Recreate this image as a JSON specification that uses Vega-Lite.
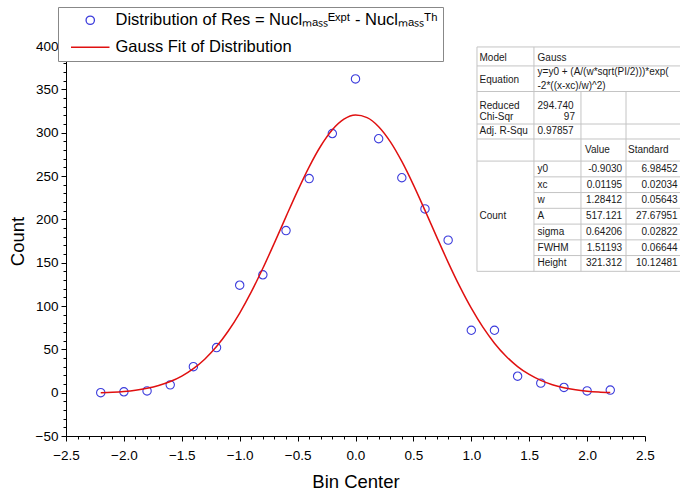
{
  "$schema": "https://vega.github.io/schema/vega-lite/v6.json",
  "width": 579,
  "height": 390,
  "autosize": {"type": "none"},
  "padding": {"left": 66, "top": 46, "right": 35, "bottom": 62},
  "background": "white",
  "config": {"font": "Liberation Sans", "view": {"stroke": null}, "axis": {"labelOverlap": false, "labelFlush": false}},
  "datasets": {
    "obs": [
      {"x": -2.2, "y": 0}, {"x": -2.0, "y": 1}, {"x": -1.8, "y": 2}, {"x": -1.6, "y": 9},
      {"x": -1.4, "y": 30}, {"x": -1.2, "y": 52}, {"x": -1.0, "y": 124}, {"x": -0.8, "y": 136},
      {"x": -0.6, "y": 187}, {"x": -0.4, "y": 247}, {"x": -0.2, "y": 299}, {"x": 0.0, "y": 362},
      {"x": 0.2, "y": 293}, {"x": 0.4, "y": 248}, {"x": 0.6, "y": 212}, {"x": 0.8, "y": 176},
      {"x": 1.0, "y": 72}, {"x": 1.2, "y": 72}, {"x": 1.4, "y": 19}, {"x": 1.6, "y": 11},
      {"x": 1.8, "y": 6}, {"x": 2.0, "y": 2}, {"x": 2.2, "y": 3}
    ],
    "fit": [
      {"x": -2.2, "y": -0.05}, {"x": -2.1, "y": 0.53}, {"x": -2.0, "y": 1.47}, {"x": -1.9, "y": 2.91},
      {"x": -1.8, "y": 5.09}, {"x": -1.7, "y": 8.28}, {"x": -1.6, "y": 12.84}, {"x": -1.5, "y": 19.18},
      {"x": -1.4, "y": 27.73}, {"x": -1.3, "y": 38.94}, {"x": -1.2, "y": 53.2}, {"x": -1.1, "y": 70.82},
      {"x": -1.0, "y": 91.88}, {"x": -0.9, "y": 116.27}, {"x": -0.8, "y": 143.52}, {"x": -0.7, "y": 172.85},
      {"x": -0.6, "y": 203.12}, {"x": -0.5, "y": 232.91}, {"x": -0.4, "y": 260.63}, {"x": -0.3, "y": 284.64},
      {"x": -0.2, "y": 303.37}, {"x": -0.1, "y": 315.56}, {"x": 0.0, "y": 320.35}, {"x": 0.1, "y": 317.4},
      {"x": 0.2, "y": 306.92}, {"x": 0.3, "y": 289.65}, {"x": 0.4, "y": 266.77}, {"x": 0.5, "y": 239.78},
      {"x": 0.6, "y": 210.34}, {"x": 0.7, "y": 180.05}, {"x": 0.8, "y": 150.39}, {"x": 0.9, "y": 122.55},
      {"x": 1.0, "y": 97.42}, {"x": 1.1, "y": 75.54}, {"x": 1.2, "y": 57.1}, {"x": 1.3, "y": 42.05},
      {"x": 1.4, "y": 30.15}, {"x": 1.5, "y": 21.0}, {"x": 1.6, "y": 14.18}, {"x": 1.7, "y": 9.23},
      {"x": 1.8, "y": 5.74}, {"x": 1.9, "y": 3.35}, {"x": 2.0, "y": 1.76}, {"x": 2.1, "y": 0.72},
      {"x": 2.2, "y": 0.06}
    ],
    "box": [{"x": 1.049, "x2": 2.803, "y": 140.0, "y2": 398.9}],
    "hlines": [
      {"x": 1.049, "x2": 2.803, "y": 398.9}, {"x": 1.049, "x2": 2.803, "y": 377.0},
      {"x": 1.049, "x2": 2.803, "y": 347.5}, {"x": 1.049, "x2": 2.803, "y": 310.0},
      {"x": 1.049, "x2": 2.803, "y": 292.7}, {"x": 1.049, "x2": 2.803, "y": 267.2},
      {"x": 1.049, "x2": 2.803, "y": 140.0},
      {"x": 1.541, "x2": 2.803, "y": 249.0}, {"x": 1.541, "x2": 2.803, "y": 230.9},
      {"x": 1.541, "x2": 2.803, "y": 212.7}, {"x": 1.541, "x2": 2.803, "y": 194.5},
      {"x": 1.541, "x2": 2.803, "y": 176.3}, {"x": 1.541, "x2": 2.803, "y": 158.2}
    ],
    "vlines": [
      {"x": 1.049, "y": 140.0, "y2": 398.9}, {"x": 1.541, "y": 140.0, "y2": 398.9},
      {"x": 1.947, "y": 140.0, "y2": 347.5}, {"x": 2.336, "y": 140.0, "y2": 347.5}
    ],
    "tblL": [
      {"x": 1.071, "y": 385.8, "t": "Model"},
      {"x": 1.071, "y": 360.2, "t": "Equation"},
      {"x": 1.071, "y": 330.6, "t": "Reduced"},
      {"x": 1.071, "y": 317.8, "t": "Chi-Sqr"},
      {"x": 1.071, "y": 301.9, "t": "Adj. R-Squ"},
      {"x": 1.071, "y": 203.6, "t": "Count"},
      {"x": 1.572, "y": 385.8, "t": "Gauss"},
      {"x": 1.572, "y": 370.0, "t": "y=y0 + (A/(w*sqrt(PI/2)))*exp("},
      {"x": 1.572, "y": 353.3, "t": "-2*((x-xc)/w)^2)"},
      {"x": 1.572, "y": 330.6, "t": "294.740"},
      {"x": 1.572, "y": 301.9, "t": "0.97857"},
      {"x": 1.572, "y": 258.1, "t": "y0"},
      {"x": 1.572, "y": 239.9, "t": "xc"},
      {"x": 1.572, "y": 221.8, "t": "w"},
      {"x": 1.572, "y": 203.6, "t": "A"},
      {"x": 1.572, "y": 185.4, "t": "sigma"},
      {"x": 1.572, "y": 167.3, "t": "FWHM"},
      {"x": 1.572, "y": 149.1, "t": "Height"},
      {"x": 1.982, "y": 280.0, "t": "Value"},
      {"x": 2.353, "y": 280.0, "t": "Standard"}
    ],
    "tblR": [
      {"x": 1.895, "y": 317.8, "t": "97"},
      {"x": 2.302, "y": 258.1, "t": "-0.9030"},
      {"x": 2.302, "y": 239.9, "t": "0.01195"},
      {"x": 2.302, "y": 221.8, "t": "1.28412"},
      {"x": 2.302, "y": 203.6, "t": "517.121"},
      {"x": 2.302, "y": 185.4, "t": "0.64206"},
      {"x": 2.302, "y": 167.3, "t": "1.51193"},
      {"x": 2.302, "y": 149.1, "t": "321.312"},
      {"x": 2.782, "y": 258.1, "t": "6.98452"},
      {"x": 2.782, "y": 239.9, "t": "0.02034"},
      {"x": 2.782, "y": 221.8, "t": "0.05643"},
      {"x": 2.782, "y": 203.6, "t": "27.67951"},
      {"x": 2.782, "y": 185.4, "t": "0.02822"},
      {"x": 2.782, "y": 167.3, "t": "0.06644"},
      {"x": 2.782, "y": 149.1, "t": "10.12481"}
    ]
  },
  "encoding": {
    "x": {
      "field": "x", "type": "quantitative",
      "scale": {"domain": [-2.5, 2.5], "nice": false, "zero": false},
      "axis": {
        "title": "Bin Center",
        "values": [-2.5,-2.4,-2.3,-2.2,-2.1,-2.0,-1.9,-1.8,-1.7,-1.6,-1.5,-1.4,-1.3,-1.2,-1.1,-1.0,-0.9,-0.8,-0.7,-0.6,-0.5,-0.4,-0.3,-0.2,-0.1,0,0.1,0.2,0.3,0.4,0.5,0.6,0.7,0.8,0.9,1.0,1.1,1.2,1.3,1.4,1.5,1.6,1.7,1.8,1.9,2.0,2.1,2.2,2.3,2.4,2.5],
        "labelExpr": "abs(round(datum.value*10)) % 5 === 0 ? format(datum.value, '.1f') : ''",
        "tickSize": {"condition": {"test": "abs(round(datum.value*10)) % 5 === 0", "value": 5}, "value": 3},
        "labelFontSize": 13.5, "labelColor": "black", "labelPadding": 7,
        "labelOverlap": false, "labelFlush": false,
        "titleFontSize": 18.5, "titleFontWeight": "normal", "titleColor": "black", "titlePadding": 11,
        "domainColor": "black", "tickColor": "black", "grid": false
      }
    },
    "y": {
      "field": "y", "type": "quantitative",
      "scale": {"domain": [-50, 400], "nice": false, "zero": false},
      "axis": {
        "title": "Count",
        "values": [-50,-40,-30,-20,-10,0,10,20,30,40,50,60,70,80,90,100,110,120,130,140,150,160,170,180,190,200,210,220,230,240,250,260,270,280,290,300,310,320,330,340,350,360,370,380,390,400],
        "labelExpr": "datum.value % 50 === 0 ? format(datum.value, 'd') : ''",
        "tickSize": {"condition": {"test": "datum.value % 50 === 0", "value": 5}, "value": 3},
        "labelFontSize": 13.5, "labelColor": "black", "labelPadding": 3,
        "labelOverlap": false, "labelFlush": false,
        "titleFontSize": 18.5, "titleFontWeight": "normal", "titleColor": "black", "titlePadding": 8,
        "domainColor": "black", "tickColor": "black", "grid": false
      }
    }
  },
  "layer": [
    {
      "data": {"name": "obs"},
      "mark": {"type": "point", "filled": false, "size": 70, "strokeWidth": 1.1, "opacity": 1},
      "encoding": {
        "color": {
          "datum": "Distribution of Res = Nuclₘₐₛₛᴱˣᵖᵗ - Nuclₘₐₛₛᵀʰ",
          "scale": {
            "domain": ["Distribution of Res = Nuclₘₐₛₛᴱˣᵖᵗ - Nuclₘₐₛₛᵀʰ", "Gauss Fit of Distribution"],
            "range": ["#3c3cdc", "#e01010"]
          },
          "legend": {
            "title": null, "orient": "none", "legendX": -8, "legendY": -39,
            "padding": 5, "strokeColor": "#888888", "fillColor": "white",
            "labelFontSize": 16.5, "labelColor": "black", "labelLimit": 0,
            "symbolSize": 70, "symbolStrokeWidth": 1.3, "symbolOffset": 19, "labelOffset": 17, "rowPadding": 10
          }
        },
        "shape": {
          "datum": "Distribution of Res = Nuclₘₐₛₛᴱˣᵖᵗ - Nuclₘₐₛₛᵀʰ",
          "scale": {
            "domain": ["Distribution of Res = Nuclₘₐₛₛᴱˣᵖᵗ - Nuclₘₐₛₛᵀʰ", "Gauss Fit of Distribution"],
            "range": ["circle", "M-4.6,0H4.6"]
          },
          "legend": {
            "title": null, "orient": "none", "legendX": -8, "legendY": -39,
            "padding": 5, "strokeColor": "#888888", "fillColor": "white",
            "labelFontSize": 16.5, "labelColor": "black", "labelLimit": 0,
            "symbolSize": 70, "symbolStrokeWidth": 1.3, "symbolOffset": 19, "labelOffset": 17, "rowPadding": 10
          }
        }
      }
    },
    {
      "data": {"name": "fit"},
      "mark": {"type": "line", "strokeWidth": 1.5, "interpolate": "monotone"},
      "encoding": {
        "color": {"datum": "Gauss Fit of Distribution"}
      }
    },
    {
      "data": {"name": "box"},
      "mark": {"type": "rect", "fill": "white"},
      "encoding": {
        "x2": {"field": "x2"},
        "y2": {"field": "y2"}
      }
    },
    {
      "data": {"name": "hlines"},
      "mark": {"type": "rule", "color": "#c4c4c4", "strokeWidth": 1},
      "encoding": {
        "x2": {"field": "x2"}
      }
    },
    {
      "data": {"name": "vlines"},
      "mark": {"type": "rule", "color": "#c4c4c4", "strokeWidth": 1},
      "encoding": {
        "y2": {"field": "y2"}
      }
    },
    {
      "data": {"name": "tblL"},
      "mark": {"type": "text", "align": "left", "baseline": "middle", "fontSize": 10, "color": "#1a1a1a"},
      "encoding": {
        "text": {"field": "t"}
      }
    },
    {
      "data": {"name": "tblR"},
      "mark": {"type": "text", "align": "right", "baseline": "middle", "fontSize": 10, "color": "#1a1a1a"},
      "encoding": {
        "text": {"field": "t"}
      }
    }
  ]
}
